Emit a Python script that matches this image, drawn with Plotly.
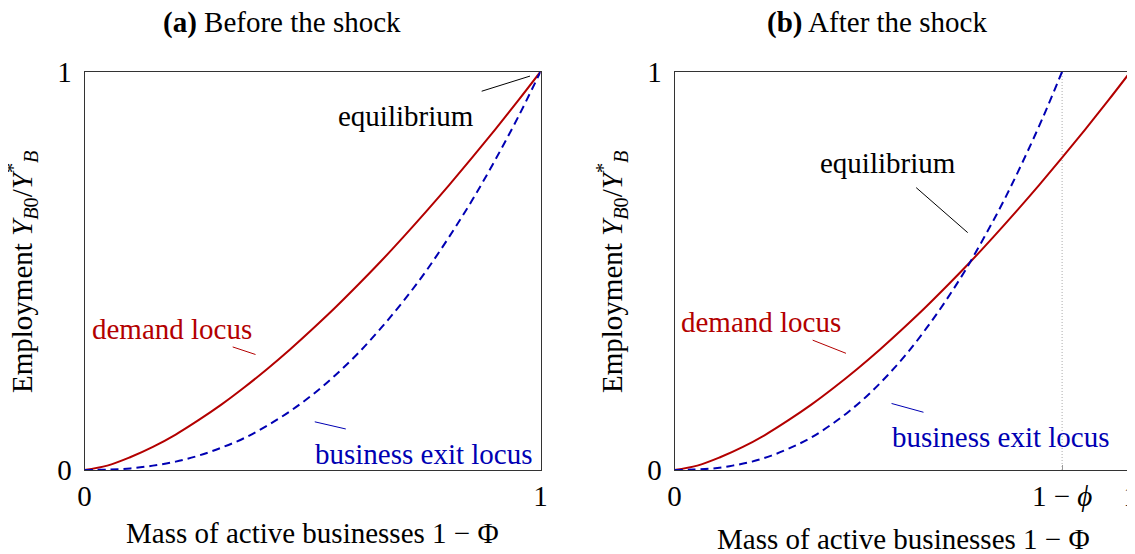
import plotly.graph_objects as go

# ---- data ----
share = [0.0, 0.05, 0.1, 0.15, 0.2, 0.25, 0.3, 0.35, 0.4, 0.45, 0.5,
         0.55, 0.6, 0.65, 0.7, 0.75, 0.8, 0.85, 0.9, 0.95, 1.0]
demand_locus = [0.0, 0.011, 0.032, 0.058, 0.089, 0.125, 0.164, 0.207, 0.253, 0.302, 0.354,
                0.408, 0.465, 0.524, 0.586, 0.650, 0.716, 0.784, 0.854, 0.926, 1.0]
exit_locus_before = [0.0, 0.001, 0.004, 0.011, 0.021, 0.036, 0.056, 0.080, 0.111, 0.147, 0.189,
                     0.238, 0.293, 0.356, 0.425, 0.501, 0.586, 0.677, 0.777, 0.884, 1.0]
share_after = [0.0, 0.0425, 0.085, 0.1275, 0.17, 0.2125, 0.255, 0.2975, 0.34, 0.3825, 0.425,
               0.4675, 0.51, 0.5525, 0.595, 0.6375, 0.68, 0.7225, 0.765, 0.8075, 0.85]
exit_locus_after = [0.0, 0.001, 0.004, 0.011, 0.021, 0.036, 0.056, 0.080, 0.111, 0.147, 0.189,
                    0.238, 0.293, 0.356, 0.425, 0.501, 0.586, 0.677, 0.777, 0.884, 1.0]
one_minus_phi = 0.85

x_ticks_a = [0, 1]
x_ticktext_a = ["0", "1"]
x_ticks_b = [0, one_minus_phi, 1]
x_ticktext_b = ["0", "1 \u2212 <i>\u03d5</i>", "1"]
y_ticks = [0, 1]
y_ticktext = ["0", "1"]

titles = ["<b>(a)</b> Before the shock", "<b>(b)</b> After the shock"]
x_title = "Mass of active businesses 1 \u2212 \u03a6"
y_title = "Employment <i>Y</i><sub><i>B</i>0</sub>/<i>Y</i><sup>*</sup><sub><i>B</i></sub>"

RED = "#b30000"
BLUE = "#0000b3"
FONT = "Liberation Serif"
FS = 29

# the page body keeps an 8px margin, so the figure is laid out in page pixels minus 8
OFF = 8
PW, PH = 1135, 554
W, H = PW - OFF, PH - OFF


def px(x):
    return (x - OFF) / W


def py(y):
    return (H - (y - OFF)) / H


fig = go.Figure()

# panel (a)
fig.add_trace(go.Scatter(x=share, y=demand_locus, mode="lines", line=dict(color=RED, width=2, shape="spline"),
                         xaxis="x", yaxis="y", showlegend=False))
fig.add_trace(go.Scatter(x=share, y=exit_locus_before, mode="lines",
                         line=dict(color=BLUE, width=2, dash="8px,5px", shape="spline"),
                         xaxis="x", yaxis="y", showlegend=False))
# panel (b)
fig.add_trace(go.Scatter(x=[one_minus_phi, one_minus_phi], y=[0, 1], mode="lines",
                         line=dict(color="#aaaaaa", width=1, dash="1px,2px"),
                         xaxis="x2", yaxis="y2", showlegend=False))
fig.add_trace(go.Scatter(x=share, y=demand_locus, mode="lines", line=dict(color=RED, width=2, shape="spline"),
                         xaxis="x2", yaxis="y2", showlegend=False))
fig.add_trace(go.Scatter(x=share_after, y=exit_locus_after, mode="lines",
                         line=dict(color=BLUE, width=2, dash="8px,5px", shape="spline"),
                         xaxis="x2", yaxis="y2", showlegend=False))

dom_a = [px(84.5), px(540.5)]
dom_b = [px(674.5), px(1130.5)]
dom_y = [py(470), py(71.7)]

axis_common = dict(range=[0, 1], showgrid=False, zeroline=False, showline=True, linecolor="#333333",
                   linewidth=1, mirror=True, automargin=False, ticklabeloverflow="allow",
                   tickfont=dict(family=FONT, size=FS, color="black"))

fig.update_layout(
    width=W, height=H,
    margin=dict(l=0, r=0, t=0, b=0, autoexpand=False),
    paper_bgcolor="white", plot_bgcolor="white",
    font=dict(family=FONT, size=FS, color="black"),
    xaxis=dict(domain=dom_a, anchor="y", tickvals=x_ticks_a, ticktext=x_ticktext_a,
               ticks="", ticklabelstandoff=0, **axis_common),
    yaxis=dict(domain=dom_y, anchor="x", tickvals=y_ticks, ticktext=y_ticktext, ticks="",
               ticklabelstandoff=6, **axis_common),
    xaxis2=dict(domain=dom_b, anchor="y2", tickvals=x_ticks_b, ticktext=x_ticktext_b,
                ticks="inside", ticklen=5, tickcolor="#999999", ticklabelstandoff=0, **axis_common),
    yaxis2=dict(domain=dom_y, anchor="x2", tickvals=y_ticks, ticktext=y_ticktext, ticks="",
                ticklabelstandoff=6, **axis_common),
)

ann = []
# titles
ann.append(dict(text=titles[0], x=px(282), y=py(22), xref="paper", yref="paper",
                showarrow=False, xanchor="center", yanchor="middle"))
ann.append(dict(text=titles[1], x=px(877), y=py(22), xref="paper", yref="paper",
                showarrow=False, xanchor="center", yanchor="middle"))
# axis titles
ann.append(dict(text=x_title, x=px(312.5), y=py(533), xref="paper", yref="paper",
                showarrow=False, xanchor="center", yanchor="middle"))
ann.append(dict(text=x_title, x=px(904), y=py(539), xref="paper", yref="paper",
                showarrow=False, xanchor="center", yanchor="middle"))
ann.append(dict(text=y_title, x=px(22), y=py(272), xref="paper", yref="paper", textangle=-90,
                showarrow=False, xanchor="center", yanchor="middle"))
ann.append(dict(text=y_title, x=px(612), y=py(272), xref="paper", yref="paper", textangle=-90,
                showarrow=False, xanchor="center", yanchor="middle"))

# curve labels (text position, pin line) per panel
labels = [
    ("x", "y", "equilibrium", "black", (0.705, 0.89), (0.871, 0.951, 0.977, 0.989)),
    ("x", "y", "demand locus", RED, (0.191, 0.355), (0.325, 0.309, 0.375, 0.290)),
    ("x", "y", "business exit locus", BLUE, (0.745, 0.041), (0.505, 0.121, 0.573, 0.103)),
    ("x2", "y2", "equilibrium", "black", (0.468, 0.771), (0.530, 0.709, 0.643, 0.596)),
    ("x2", "y2", "demand locus", RED, (0.190, 0.371), (0.303, 0.326, 0.376, 0.293)),
    ("x2", "y2", "business exit locus", BLUE, (0.716, 0.083), (0.476, 0.167, 0.546, 0.145)),
]
shapes = []
for xr, yr, txt, col, (tx, ty), (x0, y0, x1, y1) in labels:
    ann.append(dict(text=txt, x=tx, y=ty, xref=xr, yref=yr, showarrow=False,
                    xanchor="center", yanchor="middle", font=dict(color=col, family=FONT, size=FS)))
    shapes.append(dict(type="line", xref=xr, yref=yr, x0=x0, y0=y0, x1=x1, y1=y1,
                       line=dict(color=col, width=1)))

fig.update_layout(annotations=ann, shapes=shapes)
fig.write_html("out.html")
